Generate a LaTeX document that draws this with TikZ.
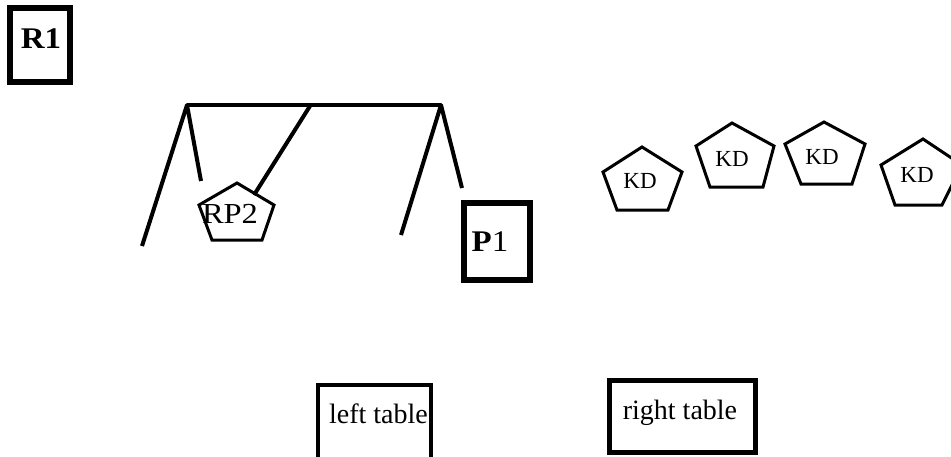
\documentclass[tikz,border=0pt]{standalone}
\usepackage{fontspec}
\setmainfont{Liberation Serif}
\begin{document}
\begin{tikzpicture}[x=1pt,y=-1pt,
  framebox/.style={draw, line width=#1, inner sep=0pt},
  pent/.style={draw, line width=3pt, line join=miter},
  bar/.style={line width=4pt, line join=round},
  big/.style={font=\fontsize{30}{30}\selectfont, inner sep=0pt},
  lbl/.style={font=\fontsize{28}{28}\selectfont, inner sep=0pt},
  kd/.style={font=\fontsize{23}{23}\selectfont, inner sep=0pt}]
\useasboundingbox (0,0) rectangle (951,456);
\begin{scope}
\clip (0,0) rectangle (951,456);
% boxes
\node[framebox=6pt, minimum width=60pt, minimum height=74pt] (r1box) at (40,45) {};
\node[big, font=\fontsize{30}{30}\selectfont\bfseries] (r1) at (41,39) {\scalebox{1.1}[1]{R1}};
\node[framebox=6.5pt, minimum width=66pt, minimum height=77pt] (p1box) at (497,241.5) {};
\node[big] (p1) at (490,242) {\scalebox{1.1}[1]{\textbf{P}1}};
\node[framebox=4pt, minimum width=113pt, minimum height=90pt] (ltbox) at (374.5,430) {};
\node[lbl] (lt) at (378.5,414) {left table};
\node[framebox=5pt, minimum width=146pt, minimum height=72pt] (rtbox) at (682.5,416.5) {};
\node[lbl] (rt) at (680,413) {right table};
% frame
\coordinate (bl) at (187,105);
\coordinate (br) at (441,105);
\coordinate (bm) at (310,106);
\coordinate (l1) at (142,246);
\coordinate (l2) at (201,181);
\coordinate (r3) at (401,235);
\coordinate (r4) at (462,188);
\coordinate (rpc) at (254,195);
\draw[bar] (bl) -- (br);
\draw[bar] (l1) -- (bl) -- (l2);
\draw[bar] (r3) -- (br) -- (r4);
\draw[bar] (bm) -- (rpc);
% RP2
\draw[pent] (237,183) -- (274,205) -- (262,240) -- (212,240) -- (199,205) -- cycle;
\node[font=\fontsize{29}{29}\selectfont, inner sep=0pt] (rp2) at (230,214) {\scalebox{1.12}[1]{RP2}};
% KD pentagons
\draw[pent] (642,147) -- (682,172) -- (668,210) -- (617,210) -- (603,172) -- cycle;
\node[kd] (kd1) at (640,181) {KD};
\draw[pent] (732,123) -- (774,146) -- (763,187) -- (710,187) -- (696,146) -- cycle;
\node[kd] (kd2) at (732,159) {KD};
\draw[pent] (824,122) -- (865,144) -- (852,184) -- (801,184) -- (785,144) -- cycle;
\node[kd] (kd3) at (822,157) {KD};
\draw[pent] (923,139) -- (962,165) -- (942,205) -- (895,205) -- (881,165) -- cycle;
\node[kd] (kd4) at (917,175) {KD};
\end{scope}
\end{tikzpicture}
\end{document}
